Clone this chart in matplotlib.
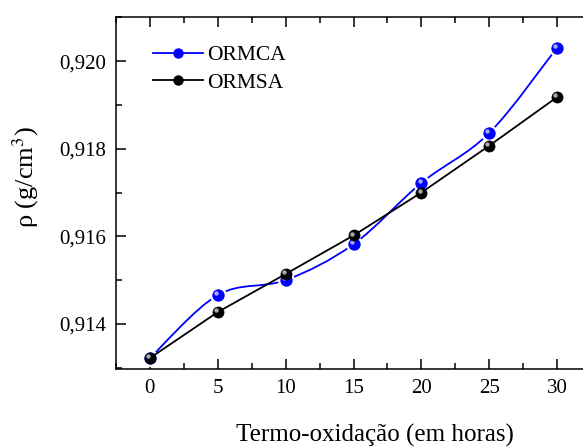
import numpy as np
import matplotlib.pyplot as plt
from matplotlib.path import Path
from matplotlib.patches import PathPatch
from matplotlib.ticker import MultipleLocator, FuncFormatter
from matplotlib.lines import Line2D
from matplotlib.transforms import ScaledTranslation

plt.rcParams['font.family'] = ['Liberation Serif', 'DejaVu Serif']
plt.rcParams['mathtext.fontset'] = 'stix'

horas = [0, 5, 10, 15, 20, 25, 30]
ormca = [0.91322, 0.91466, 0.91500, 0.91582, 0.91722, 0.91836, 0.92031]
ormsa = [0.91322, 0.91427, 0.91514, 0.91602, 0.91700, 0.91807, 0.91918]


def spline_path(xs, ys):
    # catmull-rom through the points, drawn as cubic bezier segments
    p = np.column_stack([xs, ys]).astype(float)
    n = len(p)
    verts = [p[0]]
    codes = [Path.MOVETO]
    for i in range(n - 1):
        p0 = p[i - 1] if i > 0 else p[i]
        p3 = p[i + 2] if i + 2 < n else p[i + 1]
        c1 = p[i] + (p[i + 1] - p0) / 6
        c2 = p[i + 1] - (p3 - p[i]) / 6
        verts += [c1, c2, p[i + 1]]
        codes += [Path.CURVE4] * 3
    return Path(verts, codes)


fig = plt.figure(figsize=(5.83, 4.48), dpi=100)
ax = fig.add_axes([116 / 583, (448 - 369) / 448, 475 / 583, 352 / 448])
shine = ax.transData + ScaledTranslation(-1.3 / 72, 1.3 / 72, fig.dpi_scale_trans)

ax.add_patch(PathPatch(spline_path(horas, ormca), fc='none', ec='blue', lw=1.3, zorder=2))
ax.plot(horas, ormca, 'o', ms=10.5, mfc='blue', mec='white', mew=1.6, zorder=3)
ax.plot(horas, ormca, 'o', ms=3.2, mfc='#9fa8ff', mec='none', zorder=3.1, transform=shine)
ax.plot(horas, ormsa, '-', color='black', lw=1.3, zorder=4)
ax.plot(horas, ormsa, 'o', ms=8, mfc='black', mec='black', mew=0.5, zorder=5)
ax.plot(horas, ormsa, 'o', ms=3.2, mfc='#a8a8a8', mec='none', zorder=5.1, transform=shine)

ax.set_xlim(-2.5, 32.5)
ax.set_ylim(0.91297, 0.92101)
ax.xaxis.set_major_locator(MultipleLocator(5))
ax.xaxis.set_minor_locator(MultipleLocator(2.5))
ax.yaxis.set_major_locator(MultipleLocator(0.002))
ax.yaxis.set_minor_locator(MultipleLocator(0.001))
ax.yaxis.set_major_formatter(FuncFormatter(lambda v, p: f'{v:.3f}'.replace('.', ',')))
ax.tick_params(which='both', direction='in', top=True, right=False, labelsize=15, width=1.1)
ax.tick_params(which='major', length=7, pad=7)
ax.tick_params(which='minor', length=4)
for s in ['left', 'bottom', 'top']:
    ax.spines[s].set_linewidth(1.1)
ax.spines['right'].set_visible(False)

ax.set_xlabel('Termo-oxidação (em horas)', fontsize=18)
ax.xaxis.set_label_coords((375 - 116) / 475, -(424 - 369) / 352)
ax.set_ylabel(r'ρ (g/cm$^3$)', fontsize=19)
ax.yaxis.set_label_coords(-(116 - 41) / 475, (369 - 177) / 352)

handles = [Line2D([], [], color='blue', lw=1.3, marker='o', ms=6.5, mfc='blue', mec='blue'),
           Line2D([], [], color='black', lw=1.3, marker='o', ms=6.5, mfc='black', mec='black')]
ax.legend(handles, ['ORMCA', 'ORMSA'], loc='upper left', bbox_to_anchor=(0.06, 0.945),
          frameon=False, fontsize=15.5, handlelength=2.3, handletextpad=0.2, labelspacing=0.35,
          borderaxespad=0)

fig.savefig('out.png', dpi=100)
